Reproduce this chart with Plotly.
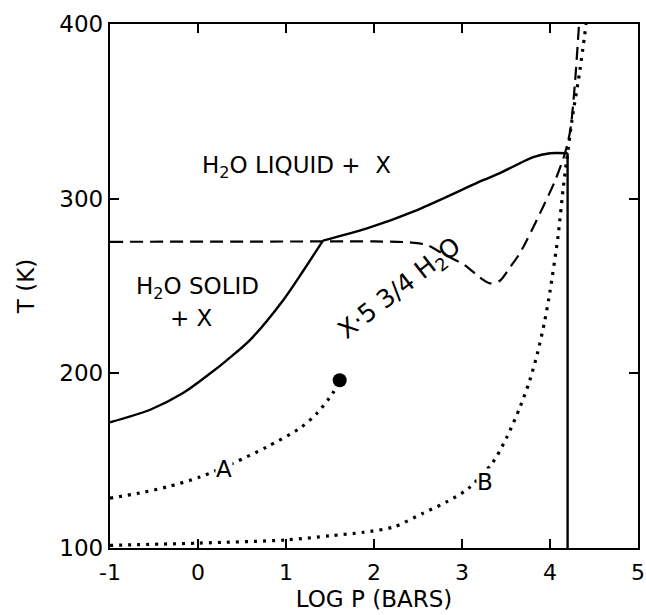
import plotly.graph_objects as go

# Solid phase boundary, lower branch (H2O solid + X | X·5 3/4 H2O)
solid_lo_x = [-1.0, -0.55, -0.17, 0.14, 0.33, 0.59, 0.97, 1.2, 1.42]
solid_lo_t = [172, 179, 188.7, 200, 207.6, 219, 242, 259, 276]

# Solid phase boundary, upper branch (H2O liquid + X | X·5 3/4 H2O)
solid_hi_x = [1.42, 1.92, 2.49, 3.24, 3.43, 3.81, 4.0, 4.2]
solid_hi_t = [276, 283, 293.5, 310.6, 314.6, 323.8, 326, 326]

# Vertical solid line
vert_x = [4.2, 4.2]
vert_t = [100, 326]

# Dashed curve
dash_x = [-1.0, 1.42, 2.0, 2.4, 2.6, 2.8, 3.03, 3.2, 3.32, 3.43, 3.55, 3.66, 3.89, 4.06, 4.17, 4.23, 4.28, 4.33]
dash_t = [275.3, 275.5, 275.5, 275, 273.5, 268, 262, 255, 251.5, 253, 261, 269, 292, 310.6, 326, 339, 364, 400]

# Dotted curve A
a_x = [-1.0, -0.66, -0.35, 0.02, 0.4, 0.78, 1.16, 1.35, 1.53, 1.61]
a_t = [128.5, 131.5, 135, 140.6, 148.6, 157.8, 168.7, 177, 188.6, 195.6]

# End point of A
pt_x = [1.61]
pt_t = [196]

# Dotted curve B
b_x = [-1.0, 0.0, 1.0, 1.5, 1.88, 2.22, 2.56, 2.83, 3.07, 3.35, 3.51, 3.66, 3.77, 3.86, 3.94, 4.0, 4.09, 4.15, 4.19, 4.25, 4.34, 4.41]
b_t = [101.5, 102.8, 104.6, 107, 109, 112, 120, 126.5, 134, 149, 163.5, 180.7, 196, 212, 230, 247, 278, 306, 322, 345, 373.6, 400]

x_ticks = [-1, 0, 1, 2, 3, 4, 5]
y_ticks = [100, 200, 300, 400]

FONT = "DejaVu Sans"

fig = go.Figure()
dot_line = dict(color="black", width=3.2, dash="3px,6px", shape="spline", smoothing=0.8)
fig.add_trace(go.Scatter(x=b_x, y=b_t, mode="lines", line=dot_line, hoverinfo="skip"))
fig.add_trace(go.Scatter(x=a_x, y=a_t, mode="lines", line=dot_line, hoverinfo="skip"))
fig.add_trace(go.Scatter(x=dash_x, y=dash_t, mode="lines",
                         line=dict(color="black", width=2.2, dash="13px,7px", shape="spline", smoothing=0.8),
                         hoverinfo="skip"))
solid_line = dict(color="black", width=2.4, shape="spline", smoothing=0.8)
fig.add_trace(go.Scatter(x=solid_lo_x, y=solid_lo_t, mode="lines", line=solid_line, hoverinfo="skip"))
fig.add_trace(go.Scatter(x=solid_hi_x, y=solid_hi_t, mode="lines", line=solid_line, hoverinfo="skip"))
fig.add_trace(go.Scatter(x=vert_x, y=vert_t, mode="lines",
                         line=dict(color="black", width=2.4), hoverinfo="skip"))
fig.add_trace(go.Scatter(x=pt_x, y=pt_t, mode="markers",
                         marker=dict(color="black", size=14), hoverinfo="skip"))

ann_font = dict(family=FONT, size=23, color="black")
fig.add_annotation(x=1.12, y=318, text="H<sub>2</sub>O LIQUID +\u00a0\u00a0X", showarrow=False, font=ann_font)
fig.add_annotation(x=-0.01, y=249, text="H<sub>2</sub>O SOLID", showarrow=False, font=ann_font)
fig.add_annotation(x=-0.07, y=231.5, text="+ X", showarrow=False, font=ann_font)
fig.add_annotation(x=0.3, y=145, text="A", showarrow=False, font=ann_font, bgcolor="white",
                   borderpad=0)
fig.add_annotation(x=3.26, y=138, text="B", showarrow=False, font=ann_font, bgcolor="white",
                   borderpad=0)
fig.add_annotation(x=2.3, y=248, text="X·5 3/4 H<sub>2</sub>O", showarrow=False,
                   font=dict(family=FONT, size=25, color="black"), textangle=-38)

axis_common = dict(showline=True, linecolor="black", linewidth=2.4, mirror="ticks",
                   ticks="inside", ticklen=9, tickwidth=2.2, tickcolor="black",
                   showgrid=False, zeroline=False, automargin=False)

fig.update_xaxes(range=[-1, 5], tickvals=x_ticks, ticktext=[str(v) for v in x_ticks],
                 tickfont=dict(family=FONT, size=22, color="black"), ticklabelstandoff=3,
                 title=dict(text="LOG P (BARS)", font=dict(family=FONT, size=23, color="black"), standoff=7),
                 **axis_common)
fig.update_yaxes(range=[100, 400], tickvals=y_ticks, ticktext=[str(v) for v in y_ticks],
                 tickfont=dict(family=FONT, size=23, color="black"),
                 title=dict(text="T (K)", font=dict(family=FONT, size=23, color="black"), standoff=18),
                 **axis_common)

fig.update_layout(width=646, height=615, showlegend=False,
                  margin=dict(l=110, r=8, t=24, b=67, autoexpand=False),
                  plot_bgcolor="white", paper_bgcolor="white")

fig.write_html("out.html", config={"displayModeBar": False},
               post_script="document.body.style.margin='0';")
